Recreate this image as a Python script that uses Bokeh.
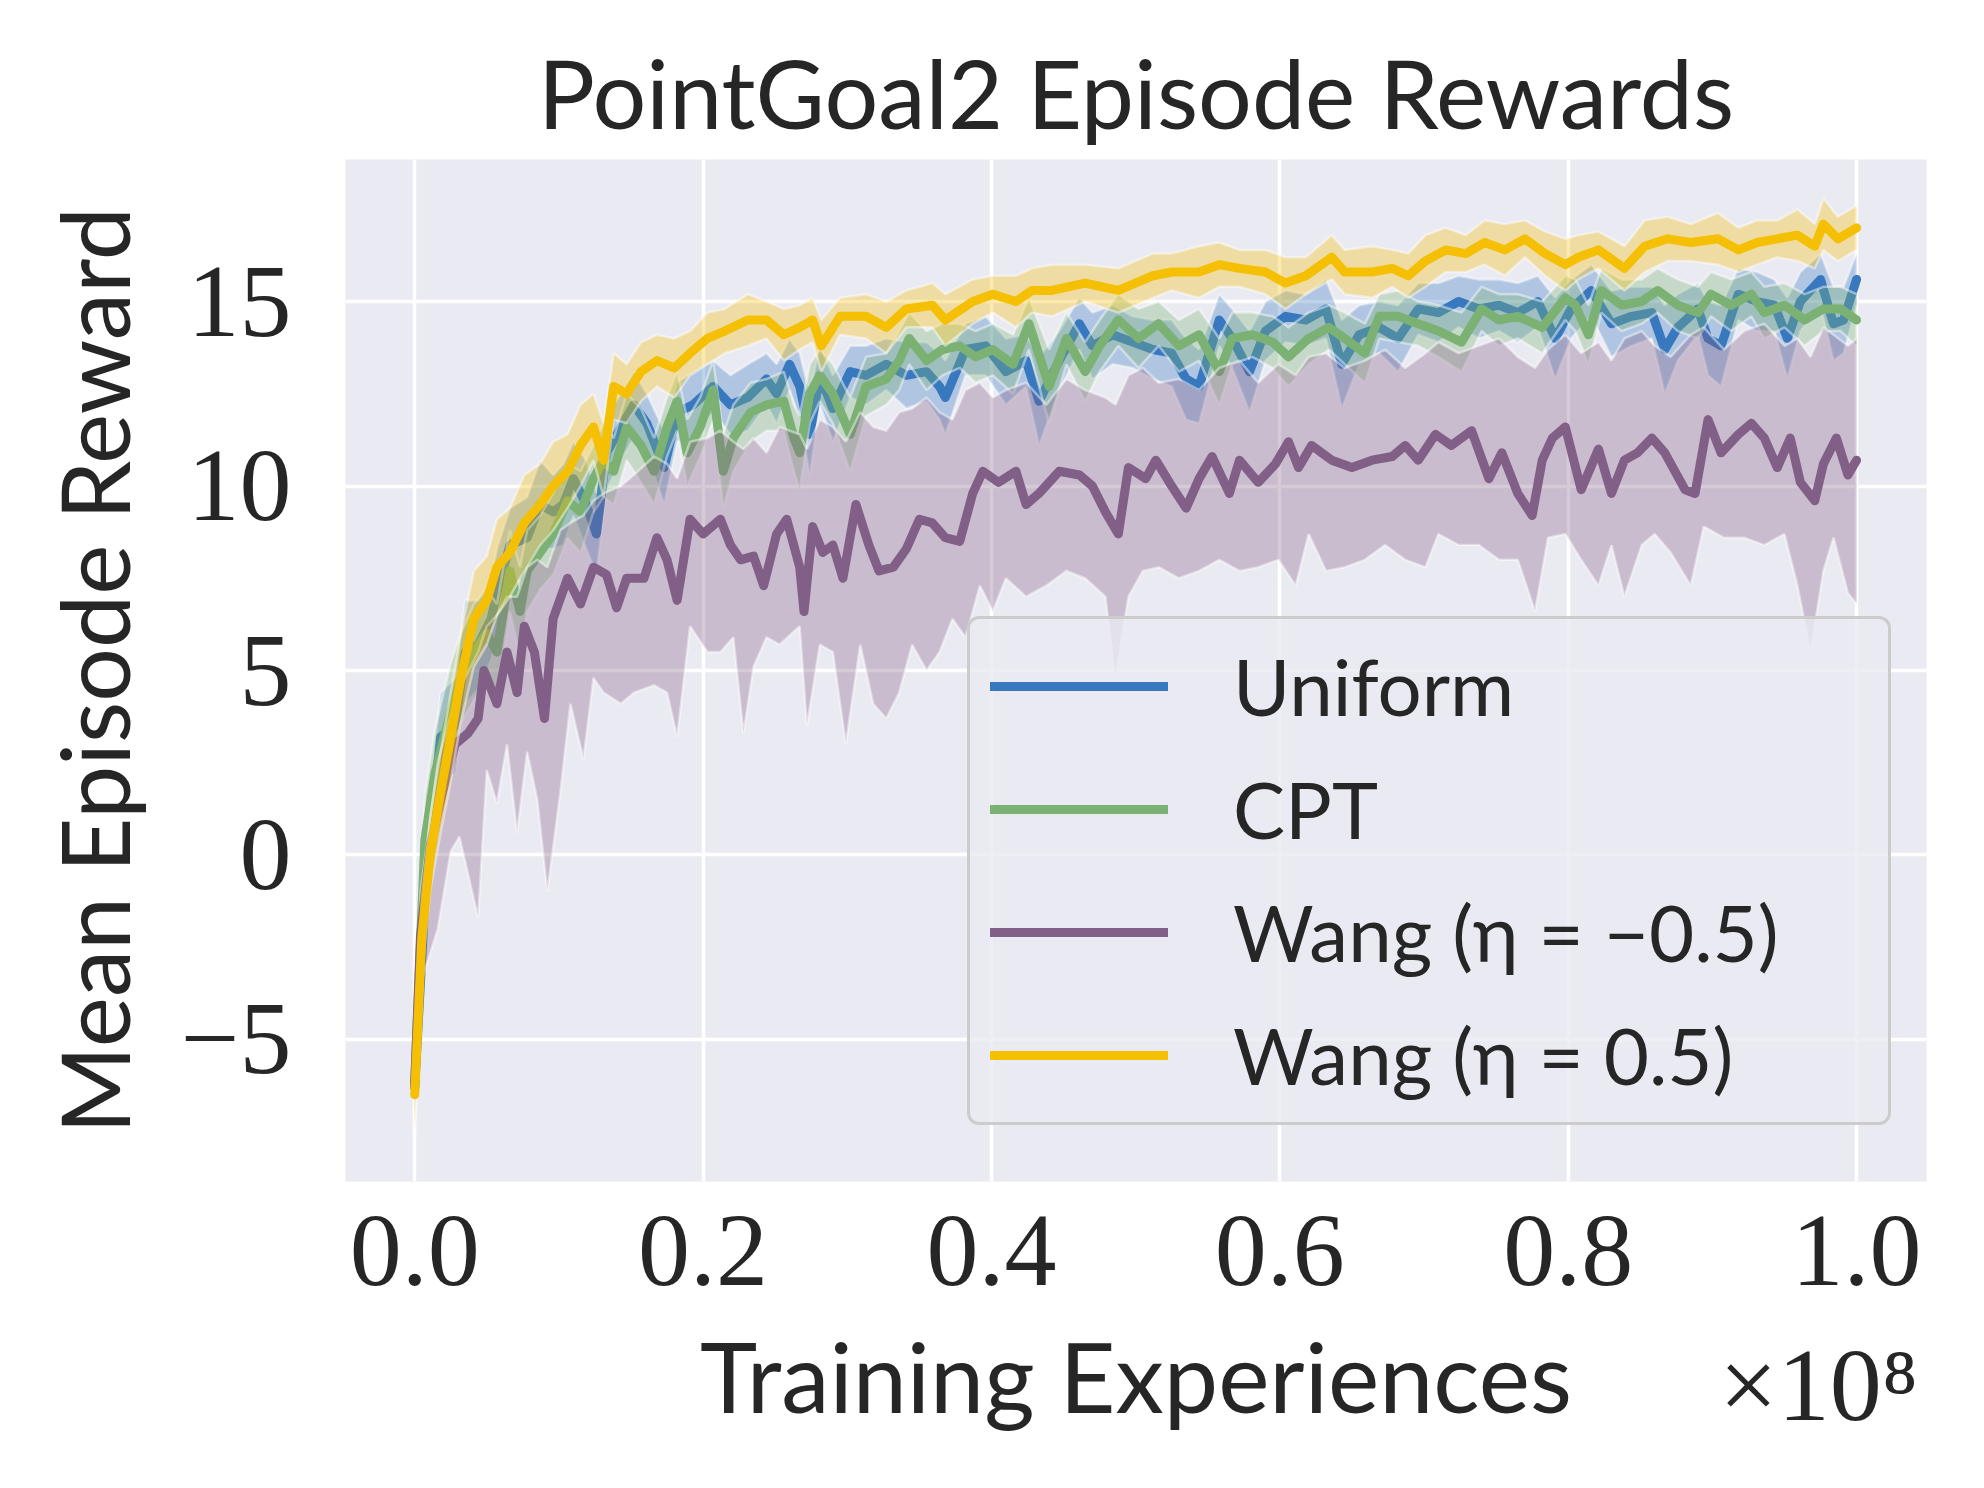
from bokeh.plotting import figure
from bokeh.models import (Legend, LegendItem, FixedTicker, CustomJSTickFormatter,
                          Range1d, Title, LinearAxis)
from bokeh.embed import file_html
from bokeh.resources import INLINE
import numpy as np

TITLE = "PointGoal2 Episode Rewards"
X_LABEL = "Training Experiences"
Y_LABEL = "Mean Episode Reward"
X_SCALE_TEXT = "×10⁸"
X_TICKS = [0.0, 0.2, 0.4, 0.6, 0.8, 1.0]
Y_TICKS = [-5, 0, 5, 10, 15]
NAMES = ["Uniform", "CPT", "Wang (η = −0.5)", "Wang (η = 0.5)"]
COLORS = ["#3778bf", "#7bb274", "#825f87", "#f5bf03"]

# ---- Uniform ----
UNI_X = [0, 0.007, 0.014, 0.018, 0.028, 0.035, 0.044, 0.053, 0.057, 0.066, 0.078, 0.087, 0.096, 0.103, 0.110,
         0.119, 0.126, 0.133, 0.143, 0.152, 0.161, 0.173, 0.182, 0.193, 0.207, 0.219, 0.231, 0.244, 0.251, 0.260,
         0.267, 0.274, 0.281, 0.290, 0.302, 0.313, 0.327, 0.341, 0.355, 0.364, 0.368, 0.382, 0.396, 0.410, 0.424,
         0.433, 0.447, 0.461, 0.470, 0.484, 0.498, 0.512, 0.525, 0.535, 0.544, 0.558, 0.567, 0.579, 0.590, 0.604,
         0.618, 0.632, 0.643, 0.655, 0.669, 0.682, 0.696, 0.710, 0.724, 0.738, 0.752, 0.765, 0.779, 0.791, 0.802,
         0.816, 0.830, 0.844, 0.858, 0.867, 0.876, 0.890, 0.897, 0.906, 0.918, 0.931, 0.943, 0.952, 0.961, 0.975,
         0.984, 0.991, 1.0]
UNI_Y = [-6.3, -1.3, 1.7, 3.2, 3.5, 5.5, 5.7, 6.4, 7.1, 8.4, 8.6, 9.5, 9.3, 9.5, 10.2,
         9.5, 8.7, 10.9, 11.6, 12.2, 11.7, 10.5, 12.0, 12.2, 12.7, 12.2, 12.4, 12.9, 12.5, 13.3,
         12.7, 11.4, 13.0, 12.1, 13.1, 13.0, 13.3, 13.0, 13.1, 12.7, 12.4, 13.7, 13.8, 13.1, 13.4,
         12.3, 13.4, 14.4, 13.8, 14.1, 13.9, 13.7, 13.6, 12.9, 12.7, 14.5, 14.0, 13.1, 14.2, 14.6,
         14.5, 14.8, 13.3, 14.1, 14.3, 14.0, 14.8, 14.7, 15.0, 14.8, 14.9, 14.7, 15.0, 14.0, 14.8,
         15.3, 14.4, 14.6, 14.7, 13.7, 14.3, 14.8, 14.0, 13.8, 15.2, 15.0, 14.9, 14.0, 15.0, 15.6,
         14.4, 14.5, 15.6]
UNI_SPREAD = [1.0, 1.2, 1.3, 1.2, 1.3, 1.4, 1.2, 1.1, 1.2, 1.0, 1.1, 1.2, 1.0, 1.1, 1.0, 1.2, 1.1, 1.0, 0.9, 0.9,
              0.8, 1.0, 0.8, 0.9, 0.7, 0.8, 0.9, 0.7, 0.8, 0.7, 0.9, 1.1, 0.8, 0.9, 0.7, 0.8, 0.7, 0.9, 0.8, 0.9,
              1.0, 0.7, 0.8, 0.9, 0.7, 1.2, 0.8, 0.7, 0.9, 0.8, 0.7, 0.8, 0.9, 1.1, 1.0, 0.7, 0.8, 1.1, 0.8, 0.7,
              0.7, 0.8, 1.2, 0.8, 0.7, 0.9, 0.7, 0.8, 0.7, 0.8, 0.7, 0.8, 0.7, 1.1, 0.8, 0.7, 0.9, 0.8, 0.7, 1.2,
              0.9, 0.7, 1.0, 1.1, 0.7, 0.8, 0.7, 1.1, 0.8, 0.7, 1.0, 0.9, 0.7]

# ---- CPT ----
CPT_X = [0, 0.007, 0.014, 0.025, 0.032, 0.041, 0.050, 0.057, 0.066, 0.073, 0.078, 0.087, 0.096, 0.106, 0.115,
         0.124, 0.131, 0.138, 0.147, 0.157, 0.166, 0.175, 0.182, 0.189, 0.198, 0.207, 0.214, 0.221, 0.233, 0.244,
         0.256, 0.263, 0.267, 0.274, 0.281, 0.290, 0.302, 0.313, 0.327, 0.336, 0.343, 0.355, 0.366, 0.378, 0.389,
         0.401, 0.415, 0.426, 0.440, 0.452, 0.465, 0.475, 0.488, 0.502, 0.516, 0.530, 0.544, 0.558, 0.567, 0.581,
         0.595, 0.606, 0.620, 0.634, 0.645, 0.659, 0.669, 0.682, 0.696, 0.710, 0.726, 0.740, 0.752, 0.765, 0.782,
         0.798, 0.805, 0.814, 0.823, 0.837, 0.851, 0.862, 0.876, 0.890, 0.899, 0.913, 0.927, 0.936, 0.950, 0.964,
         0.977, 0.989, 1.0]
CPT_Y = [-6.2, 0.4, 2.2, 3.9, 4.8, 5.5, 6.0, 5.5, 7.7, 6.6, 7.7, 8.2, 8.7, 9.6, 9.3,
         10.2, 10.7, 10.4, 11.6, 11.1, 10.4, 11.6, 12.3, 10.9, 11.6, 12.6, 10.4, 11.3, 12.0, 12.2,
         12.3, 11.3, 10.9, 12.5, 13.0, 12.5, 11.4, 12.7, 12.9, 13.4, 14.0, 13.4, 13.7, 13.8, 13.5,
         13.7, 13.3, 14.4, 12.7, 14.0, 13.1, 13.8, 14.5, 14.0, 14.4, 13.8, 14.1, 13.1, 14.0, 14.1,
         13.9, 13.5, 14.0, 14.3, 14.0, 13.6, 14.6, 14.6, 14.4, 14.2, 13.9, 14.8, 14.5, 14.6, 14.3,
         15.1, 14.9, 14.1, 15.3, 14.9, 15.0, 15.3, 14.9, 14.7, 15.2, 14.9, 15.2, 14.7, 14.9, 14.5,
         14.8, 14.8, 14.5]
CPT_SPREAD = [1.0, 1.2, 1.2, 1.3, 1.2, 1.3, 1.2, 1.3, 1.1, 1.2, 1.1, 1.0, 1.1, 1.0, 1.1, 0.9, 1.0, 0.9, 0.9, 1.0,
              0.9, 0.8, 0.8, 0.9, 0.8, 0.8, 1.0, 0.9, 0.8, 0.7, 0.8, 0.9, 1.0, 0.8, 0.7, 0.8, 1.0, 0.8, 0.7, 0.8,
              0.7, 0.8, 0.7, 0.6, 0.7, 0.7, 0.8, 0.7, 1.0, 0.7, 0.8, 0.7, 0.7, 0.8, 0.6, 0.7, 0.7, 0.9, 0.7, 0.6,
              0.7, 0.8, 0.7, 0.6, 0.7, 0.8, 0.6, 0.7, 0.6, 0.7, 0.8, 0.6, 0.7, 0.6, 0.7, 0.6, 0.7, 0.8, 0.6, 0.7,
              0.6, 0.6, 0.7, 0.7, 0.6, 0.7, 0.6, 0.7, 0.6, 0.7, 0.6, 0.6, 0.7]

# ---- Wang (eta = -0.5) ----
WNEG_X = [0, 0.004, 0.011, 0.018, 0.028, 0.037, 0.044, 0.048, 0.057, 0.064, 0.071, 0.076, 0.083, 0.090, 0.096,
          0.106, 0.115, 0.124, 0.133, 0.140, 0.147, 0.159, 0.168, 0.175, 0.182, 0.191, 0.200, 0.212, 0.219, 0.226,
          0.235, 0.242, 0.251, 0.258, 0.267, 0.270, 0.276, 0.283, 0.290, 0.297, 0.306, 0.315, 0.322, 0.332, 0.341,
          0.350, 0.359, 0.368, 0.378, 0.387, 0.394, 0.405, 0.417, 0.424, 0.433, 0.447, 0.461, 0.470, 0.479, 0.488,
          0.495, 0.507, 0.514, 0.525, 0.535, 0.544, 0.553, 0.565, 0.572, 0.585, 0.597, 0.606, 0.613, 0.622, 0.636,
          0.650, 0.664, 0.678, 0.687, 0.696, 0.708, 0.719, 0.733, 0.745, 0.754, 0.765, 0.775, 0.782, 0.789, 0.798,
          0.809, 0.821, 0.830, 0.839, 0.848, 0.858, 0.867, 0.881, 0.888, 0.897, 0.906, 0.918, 0.927, 0.936, 0.945,
          0.954, 0.961, 0.971, 0.977, 0.986, 0.994, 1.0]
WNEG_Y = [-6.2, -2.2, 0.3, 1.5, 3.0, 3.3, 3.7, 5.0, 4.1, 5.5, 4.4, 6.2, 5.5, 3.7, 6.4,
          7.5, 6.8, 7.8, 7.6, 6.7, 7.5, 7.5, 8.6, 8.0, 6.9, 9.1, 8.7, 9.1, 8.4, 8.0,
          8.1, 7.3, 8.7, 9.1, 7.8, 6.6, 8.9, 8.2, 8.4, 7.5, 9.5, 8.4, 7.7, 7.8, 8.3,
          9.1, 9.0, 8.6, 8.5, 9.8, 10.4, 10.1, 10.4, 9.5, 9.8, 10.4, 10.3, 10.0, 9.3, 8.7,
          10.5, 10.2, 10.7, 10.0, 9.4, 10.2, 10.8, 9.8, 10.7, 10.1, 10.6, 11.2, 10.5, 11.1, 10.7,
          10.5, 10.7, 10.8, 11.1, 10.7, 11.4, 11.1, 11.5, 10.2, 10.9, 9.8, 9.2, 10.7, 11.3, 11.6,
          9.9, 11.0, 9.8, 10.7, 10.9, 11.3, 10.9, 9.9, 9.8, 11.8, 10.9, 11.4, 11.7, 11.3, 10.5,
          11.3, 10.1, 9.6, 10.6, 11.3, 10.3, 10.7]
WNEG_BAND_X = [0, 0.004, 0.016, 0.025, 0.031, 0.044, 0.050, 0.057, 0.064, 0.071, 0.078, 0.085, 0.092, 0.101,
               0.108, 0.117, 0.124, 0.131, 0.143, 0.152, 0.166, 0.175, 0.182, 0.191, 0.203, 0.212, 0.221, 0.228,
               0.235, 0.244, 0.253, 0.267, 0.272, 0.281, 0.290, 0.299, 0.309, 0.318, 0.327, 0.336, 0.345, 0.355,
               0.364, 0.373, 0.382, 0.392, 0.401, 0.410, 0.424, 0.438, 0.452, 0.465, 0.479, 0.486, 0.495, 0.505,
               0.516, 0.530, 0.544, 0.558, 0.572, 0.585, 0.599, 0.611, 0.620, 0.632, 0.645, 0.659, 0.673, 0.687,
               0.701, 0.710, 0.724, 0.738, 0.752, 0.765, 0.777, 0.786, 0.798, 0.809, 0.821, 0.830, 0.839, 0.851,
               0.860, 0.871, 0.885, 0.894, 0.908, 0.922, 0.936, 0.950, 0.959, 0.968, 0.977, 0.984, 0.994, 1.0]
WNEG_LO = [-7.0, -3.5, -2.0, 0.1, 0.5, -1.7, 2.3, 1.4, 3.0, 0.6, 2.8, 1.5, -1.0, 1.7,
           4.1, 2.6, 4.8, 4.4, 4.1, 4.4, 4.6, 4.4, 3.2, 6.2, 5.5, 5.5, 5.9, 3.3,
           5.1, 5.9, 5.7, 6.2, 3.5, 5.7, 5.5, 3.0, 5.7, 4.1, 3.7, 4.4, 5.7, 5.0,
           5.5, 6.4, 5.9, 7.3, 6.6, 7.5, 7.0, 7.3, 7.7, 7.5, 7.0, 4.8, 7.0, 7.7,
           7.8, 7.5, 7.7, 8.0, 7.7, 7.8, 8.0, 7.3, 8.7, 7.7, 7.8, 8.0, 8.4, 8.0,
           7.8, 8.7, 8.4, 8.4, 8.0, 8.0, 6.6, 8.6, 8.7, 8.0, 7.3, 8.4, 7.0, 8.4,
           8.7, 8.2, 7.3, 8.9, 8.6, 8.6, 8.4, 8.7, 7.3, 5.5, 7.7, 8.6, 7.1, 6.8]
WNEG_HI = [-5.5, -1.0, 2.5, 3.8, 4.5, 5.5, 6.2, 6.5, 7.0, 7.0, 7.8, 8.0, 7.8, 8.8,
           9.0, 9.2, 9.6, 9.8, 10.0, 10.3, 10.8, 10.6, 10.2, 11.2, 11.3, 11.5, 11.2, 11.0,
           11.3, 10.9, 11.6, 11.4, 11.0, 11.8, 11.6, 11.2, 12.0, 11.6, 11.5, 12.0, 12.1, 12.4,
           12.0, 11.8, 12.6, 12.8, 12.4, 12.6, 12.8, 12.2, 12.9, 12.6, 12.4, 12.2, 13.0, 13.2,
           12.8, 12.9, 12.6, 13.2, 13.4, 12.8, 13.3, 13.0, 13.5, 13.6, 13.2, 13.4, 13.7, 13.2,
           13.6, 13.9, 13.6, 13.8, 14.0, 13.5, 13.2, 13.7, 14.1, 13.6, 13.9, 13.4, 14.0, 14.2,
           13.8, 13.5, 14.1, 14.3, 13.7, 14.2, 14.4, 13.8, 14.0, 13.5, 14.3, 14.1, 13.8, 14.0]

# ---- Wang (eta = 0.5) ----
WPOS_X = [0, 0.005, 0.011, 0.018, 0.025, 0.032, 0.041, 0.050, 0.057, 0.066, 0.076, 0.087, 0.096, 0.106, 0.115,
          0.124, 0.131, 0.138, 0.147, 0.157, 0.168, 0.180, 0.191, 0.203, 0.215, 0.231, 0.244, 0.256, 0.267, 0.276,
          0.282, 0.295, 0.313, 0.327, 0.341, 0.359, 0.368, 0.387, 0.401, 0.417, 0.428, 0.442, 0.465, 0.488, 0.512,
          0.525, 0.544, 0.558, 0.572, 0.590, 0.604, 0.618, 0.636, 0.645, 0.664, 0.678, 0.689, 0.701, 0.715, 0.729,
          0.742, 0.756, 0.770, 0.784, 0.798, 0.807, 0.821, 0.839, 0.853, 0.869, 0.885, 0.904, 0.918, 0.931, 0.945,
          0.959, 0.971, 0.977, 0.987, 1.0]
WPOS_Y = [-6.5, -2.2, 0.1, 1.7, 3.2, 4.8, 6.4, 6.9, 7.8, 8.2, 9.0, 9.5, 10.0, 10.4, 11.1,
          11.6, 10.7, 12.7, 12.5, 13.1, 13.4, 13.2, 13.6, 14.0, 14.2, 14.5, 14.5, 14.1, 14.3, 14.5,
          13.8, 14.6, 14.6, 14.3, 14.8, 14.9, 14.5, 15.0, 15.2, 15.0, 15.3, 15.3, 15.5, 15.3, 15.7,
          15.8, 15.8, 16.0, 15.9, 15.8, 15.5, 15.7, 16.2, 15.8, 15.8, 15.9, 15.7, 16.1, 16.4, 16.3,
          16.6, 16.4, 16.7, 16.3, 16.0, 16.2, 16.4, 15.9, 16.5, 16.7, 16.6, 16.7, 16.4, 16.6, 16.7,
          16.8, 16.5, 17.1, 16.7, 17.0]
WPOS_SPREAD = [1.2, 1.0, 1.0, 1.1, 1.2, 1.2, 1.3, 1.2, 1.3, 1.2, 1.3, 1.1, 1.2, 1.0, 1.1, 0.9, 1.0, 0.9, 0.8, 0.8,
               0.7, 0.8, 0.6, 0.7, 0.6, 0.7, 0.5, 0.7, 0.6, 0.6, 0.7, 0.5, 0.6, 0.7, 0.5, 0.6, 0.7, 0.6, 0.5, 0.7,
               0.6, 0.7, 0.5, 0.6, 0.6, 0.5, 0.7, 0.6, 0.5, 0.6, 0.7, 0.5, 0.6, 0.6, 0.7, 0.5, 0.6, 0.7, 0.6, 0.5,
               0.6, 0.7, 0.5, 0.6, 0.7, 0.6, 0.5, 0.6, 0.7, 0.6, 0.5, 0.7, 0.6, 0.6, 0.5, 0.7, 0.6, 0.7, 0.6, 0.6]

SANS = "Lato"
SERIF = "Liberation Serif"
BG = "#EAEAF2"
INK = "#262626"

X_MIN, X_MAX = -0.048, 1.0485
Y_MIN, Y_MAX = -8.85, 18.85
FRAME_L, FRAME_T, FRAME_W, FRAME_H = 345, 159, 1581, 1022
TOTAL_W, TOTAL_H = 1976, 1480

p = figure(frame_width=FRAME_W, frame_height=FRAME_H,
           x_range=Range1d(X_MIN, X_MAX), y_range=Range1d(Y_MIN, Y_MAX),
           output_backend="svg", toolbar_location=None,
           min_border_left=FRAME_L, min_border_top=FRAME_T,
           min_border_right=TOTAL_W - FRAME_L - FRAME_W,
           min_border_bottom=TOTAL_H - FRAME_T - FRAME_H,
           background_fill_color=BG, border_fill_color="white")
p.outline_line_color = None

p.title.text = TITLE
p.title.text_font = SANS
p.title.text_font_size = "95px"
p.title.text_font_style = "normal"
p.title.text_color = INK
p.title.align = "center"
p.title.standoff = 22


def style_axis(ax):
    ax.axis_line_color = None
    ax.major_tick_line_color = None
    ax.minor_tick_line_color = None
    ax.major_label_text_font = SERIF
    ax.major_label_text_font_size = "104px"
    ax.major_label_text_color = INK
    ax.axis_label_text_font = SANS
    ax.axis_label_text_font_size = "97px"
    ax.axis_label_text_font_style = "normal"
    ax.axis_label_text_color = INK


style_axis(p.xaxis[0])
style_axis(p.yaxis[0])
p.xaxis.ticker = FixedTicker(ticks=X_TICKS)
p.yaxis.ticker = FixedTicker(ticks=Y_TICKS)
p.xaxis.formatter = CustomJSTickFormatter(code="return tick.toFixed(1);")
p.yaxis.formatter = CustomJSTickFormatter(
    code="return tick < 0 ? '\u2212' + Math.abs(tick) : String(tick);")
p.xaxis.major_label_standoff = 29
p.yaxis.major_label_standoff = 48

# second x axis row: carries the axis title and the x10^8 scale text
px_per_x = FRAME_W / (X_MAX - X_MIN)
scale_pos = X_MIN + (1818 - FRAME_L) / px_per_x
xaxis2 = LinearAxis(ticker=FixedTicker(ticks=[scale_pos]),
                    formatter=CustomJSTickFormatter(args=dict(t=X_SCALE_TEXT), code="return t;"),
                    axis_label=X_LABEL)
style_axis(xaxis2)
xaxis2.major_label_standoff = 33
xaxis2.axis_label_standoff = -128
p.add_layout(xaxis2, "below")

# y axis title
p.add_layout(Title(text=Y_LABEL, align="center", text_font=SANS, text_font_size="95px",
                   text_font_style="normal", text_color=INK, standoff=56), "left")

p.xgrid.ticker = FixedTicker(ticks=X_TICKS)
p.ygrid.ticker = FixedTicker(ticks=Y_TICKS)
p.grid.grid_line_color = "white"
p.grid.grid_line_width = 3.5

series = [
    (UNI_X, UNI_Y, [y - s for y, s in zip(UNI_Y, UNI_SPREAD)], [y + s for y, s in zip(UNI_Y, UNI_SPREAD)], UNI_X),
    (CPT_X, CPT_Y, [y - s for y, s in zip(CPT_Y, CPT_SPREAD)], [y + s for y, s in zip(CPT_Y, CPT_SPREAD)], CPT_X),
    (WNEG_X, WNEG_Y, WNEG_LO, WNEG_HI, WNEG_BAND_X),
    (WPOS_X, WPOS_Y, [y - s for y, s in zip(WPOS_Y, WPOS_SPREAD)], [y + s for y, s in zip(WPOS_Y, WPOS_SPREAD)], WPOS_X),
]

renderers = []
for (xs, ys, lo, hi, bx), color in zip(series, COLORS):
    p.varea(x=bx, y1=lo, y2=hi, fill_color=color, fill_alpha=0.33)
    p.line(x=bx, y=lo, line_color="white", line_alpha=0.45, line_width=2.5)
    p.line(x=bx, y=hi, line_color="white", line_alpha=0.45, line_width=2.5)
    r = p.line(x=xs, y=ys, line_color=color, line_width=9, line_join="round", line_cap="round")
    renderers.append(r)

legend = Legend(items=[LegendItem(label=n, renderers=[r]) for n, r in zip(NAMES, renderers)],
                location=(622, 56), orientation="vertical")
legend.label_text_font = SANS
legend.label_text_font_size = "78px"
legend.label_text_color = INK
legend.label_standoff = 65
legend.label_width = 635
legend.label_height = 94
legend.glyph_width = 178
legend.glyph_height = 94
legend.spacing = 29
legend.padding = 20
legend.margin = 0
legend.background_fill_color = BG
legend.background_fill_alpha = 0.8
legend.border_line_color = "#CCCCCC"
legend.border_line_width = 3
legend.border_line_alpha = 1.0
if "border_radius" in Legend.properties():
    legend.border_radius = 12
p.add_layout(legend, "center")

open("out.html", "w").write(file_html(p, INLINE))
